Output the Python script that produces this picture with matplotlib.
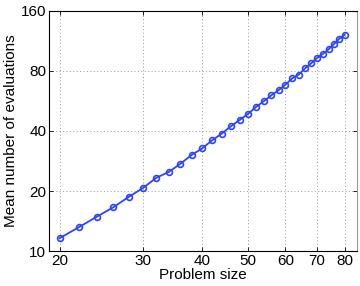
import matplotlib
matplotlib.use("Agg")
import matplotlib.pyplot as plt
from matplotlib.ticker import FixedLocator, FixedFormatter, NullLocator

plt.rcParams['font.family'] = ['Liberation Sans', 'DejaVu Sans']

problem_size = [20, 22, 24, 26, 28, 30, 32, 34, 36, 38, 40, 42, 44, 46, 48, 50,
                52, 54, 56, 58, 60, 62, 64, 66, 68, 70, 72, 74, 76, 78, 80]
mean_evals = [11.6, 13.2, 14.9, 16.6, 18.7, 20.7, 23.3, 24.9, 27.4, 30.3, 32.7,
              35.9, 38.8, 42.2, 45.4, 48.7, 52.8, 56.4, 60.4, 64.0, 68.3, 73.5,
              76.7, 82.5, 87.4, 93.0, 97.4, 102.8, 109.3, 116.2, 121.3]

x_ticks = [20, 30, 40, 50, 60, 70, 80]
y_ticks = [10, 20, 40, 80, 160]

fig = plt.figure(figsize=(3.6, 2.86), dpi=100)
ax = fig.add_axes([0.136, 0.122, 0.856, 0.840])

ax.plot(problem_size, mean_evals, '-o', color='#2b44ff', lw=1.3,
        markersize=4.2, markerfacecolor='none', markeredgewidth=1.2)

ax.set_xscale('log')
ax.set_yscale('log')
ax.set_xlim(19, 85)
ax.set_ylim(10, 160)
ax.xaxis.set_major_locator(FixedLocator(x_ticks))
ax.xaxis.set_major_formatter(FixedFormatter([str(v) for v in x_ticks]))
ax.yaxis.set_major_locator(FixedLocator(y_ticks))
ax.yaxis.set_major_formatter(FixedFormatter([str(v) for v in y_ticks]))
ax.xaxis.set_minor_locator(NullLocator())
ax.yaxis.set_minor_locator(NullLocator())

ax.grid(True, which='major', linestyle=(0, (1, 2.5)), color='#999999', lw=0.7)
ax.tick_params(direction='in', length=3, labelsize=11, top=True, right=True,
               width=0.6, pad=2)
for s in ['left', 'bottom', 'top']:
    ax.spines[s].set_color('black')
    ax.spines[s].set_linewidth(0.8)
ax.spines['right'].set_color('#999999')
ax.spines['right'].set_linewidth(0.8)

ax.set_xlabel('Problem size', fontsize=11, labelpad=0)
ax.set_ylabel('Mean number of evaluations', fontsize=11, labelpad=2)

fig.savefig('out.png', dpi=100)
